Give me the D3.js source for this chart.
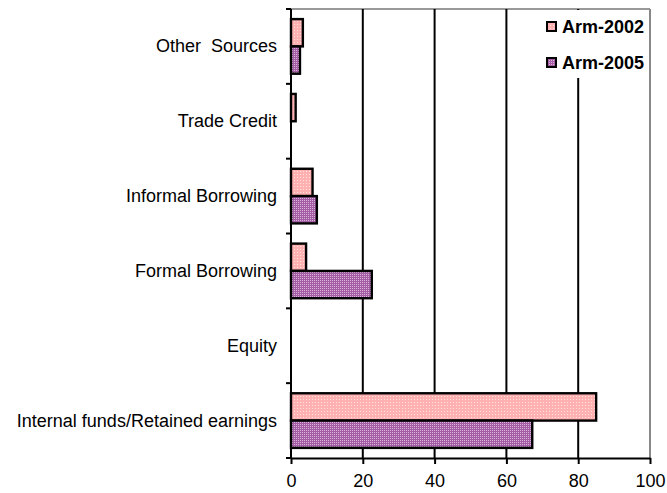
<!DOCTYPE html>
<html><head><meta charset="utf-8">
<script src="https://cdn.jsdelivr.net/npm/d3@7"></script>
<style>body{margin:0;background:#fff}svg{display:block}text{font-family:"Liberation Sans",Arial,sans-serif}</style>
</head><body><svg id="c" width="667" height="493"></svg>
<script>
const categories = ["Other  Sources","Trade Credit","Informal Borrowing","Formal Borrowing","Equity","Internal funds/Retained earnings"];
const seriesNames = ["Arm-2002","Arm-2005"];
const arm2002 = [3.3, 1.3, 6.0, 4.2, 0, 85];
const arm2005 = [2.5, 0, 7.2, 22.5, 0, 67.2];
const xTicks = [0,20,40,60,80,100];

const svg = d3.select("#c");
const L = 291, R = 650, T = 9, B = 458;
const FS = 18;
const x = d3.scaleLinear().domain([0,100]).range([L,R]);
const y = d3.scaleBand().domain(categories).range([T,B]);
const inner = d3.scaleBand().domain(seriesNames).range([0, y.bandwidth()]).paddingOuter(0.37).paddingInner(0);

const defs = svg.append("defs");
const p1 = defs.append("pattern").attr("id","p2002").attr("width",3).attr("height",3).attr("patternUnits","userSpaceOnUse");
p1.append("rect").attr("width",3).attr("height",3).attr("fill","#ffb0b0");
p1.append("rect").attr("width",1).attr("height",1).attr("fill","#ffe2e2");
const p2 = defs.append("pattern").attr("id","p2005").attr("width",2).attr("height",2).attr("patternUnits","userSpaceOnUse");
p2.append("rect").attr("width",2).attr("height",2).attr("fill","#a45ca4");
p2.append("rect").attr("width",1).attr("height",1).attr("fill","#d8b4d8");
const fills = {"Arm-2002":"url(#p2002)","Arm-2005":"url(#p2005)"};

// frame top/right grey
svg.append("line").attr("x1",L).attr("x2",R).attr("y1",T).attr("y2",T).attr("stroke","#999").attr("stroke-width",2);
svg.append("line").attr("x1",R).attr("x2",R).attr("y1",T).attr("y2",B).attr("stroke","#888").attr("stroke-width",2);
// gridlines
svg.append("g").selectAll("line").data(xTicks.filter(d=>d>0&&d<100)).join("line")
  .attr("x1",d=>x(d)).attr("x2",d=>x(d)).attr("y1",T).attr("y2",B).attr("stroke","#000").attr("stroke-width",2);

// bars
const data = [];
categories.forEach((c,i)=>{data.push({c,s:"Arm-2002",v:arm2002[i]});data.push({c,s:"Arm-2005",v:arm2005[i]});});
svg.append("g").selectAll("rect").data(data.filter(d=>d.v>0)).join("rect")
  .attr("x",x(0)).attr("y",d=>y(d.c)+inner(d.s)).attr("width",d=>x(d.v)-x(0)).attr("height",inner.bandwidth())
  .attr("fill",d=>fills[d.s]).attr("stroke","#000").attr("stroke-width",2.4);

// legend box
svg.append("rect").attr("x",524).attr("y",10).attr("width",125).attr("height",68).attr("fill","#fff");
const lg = svg.append("g").selectAll("g").data(seriesNames).join("g").attr("transform",(d,i)=>`translate(547,${22+i*36})`);
lg.append("rect").attr("width",9).attr("height",9).attr("fill",d=>fills[d]).attr("stroke","#000").attr("stroke-width",2);
lg.append("text").attr("x",15).attr("y",11).attr("font-size",FS).attr("font-weight","bold").text(d=>d);

// axes
const xa = svg.append("g").attr("transform",`translate(0,${B})`).call(d3.axisBottom(x).tickValues(xTicks).tickSize(6).tickSizeOuter(0).tickPadding(10));
xa.select(".domain").attr("stroke","#000").attr("stroke-width",2);
xa.selectAll(".tick line").attr("stroke","#000").attr("stroke-width",2);
xa.selectAll("text").attr("font-size",FS).attr("fill","#000").attr("font-family","Liberation Sans, Arial, sans-serif");

svg.append("line").attr("x1",L).attr("x2",L).attr("y1",T).attr("y2",B+1).attr("stroke","#000").attr("stroke-width",2);
const yTicks = categories.map(c=>y(c)).concat([B]);
svg.append("g").selectAll("line").data(yTicks).join("line")
  .attr("x1",L-5).attr("x2",L).attr("y1",d=>d).attr("y2",d=>d).attr("stroke","#000").attr("stroke-width",2);
svg.append("g").selectAll("text").data(categories).join("text")
  .attr("x",277).attr("y",d=>y(d)+y.bandwidth()/2+6).attr("text-anchor","end").attr("font-size",FS)
  .style("white-space","pre").attr("fill","#000").text(d=>d);
</script></body></html>
